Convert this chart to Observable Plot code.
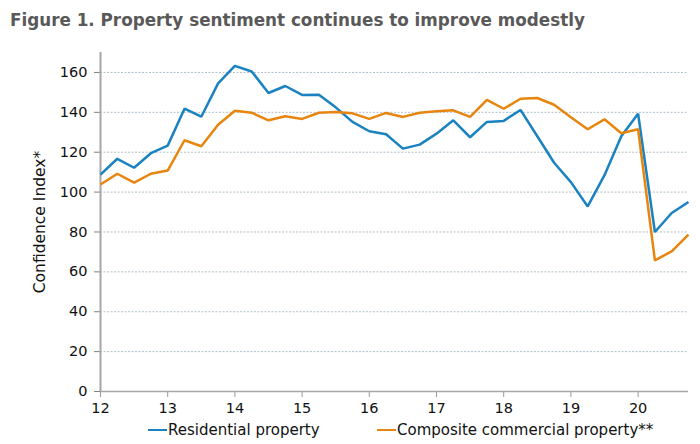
<!DOCTYPE html>
<html>
<head>
<meta charset="utf-8">
<script src="https://cdn.jsdelivr.net/npm/d3@7"></script>
<script src="https://cdn.jsdelivr.net/npm/@observablehq/plot@0.6"></script>
<style>
  body { margin: 0; background: #fff; font-family: "DejaVu Sans", Verdana, sans-serif; }
  #wrap { width: 700px; height: 444px; position: relative; overflow: hidden; }
  #title { position: absolute; left: 10px; top: 10px; font-size: 16.8px; font-weight: bold; color: #595959; white-space: nowrap; }
  #chart { position: absolute; left: 0; top: 40px; }
  #legend { position: absolute; top: 421px; left: 0; width: 700px; font-size: 15px; color: #111; }
  .item { position: absolute; display: flex; align-items: center; white-space: nowrap; }
  .sw { display: inline-block; width: 19px; height: 2.5px; margin-right: 1px; }
</style>
</head>
<body>
<div id="wrap">
  <div id="title">Figure 1. Property sentiment continues to improve modestly</div>
  <div id="chart"></div>
  <div id="legend"></div>
</div>
<script>
const quarters = [12,12.25,12.5,12.75,13,13.25,13.5,13.75,14,14.25,14.5,14.75,15,15.25,15.5,15.75,16,16.25,16.5,16.75,17,17.25,17.5,17.75,18,18.25,18.5,18.75,19,19.25,19.5,19.75,20,20.25,20.5,20.75];
const residential = [108.8,116.7,112.2,119.5,123.3,141.8,137.8,154.5,163.3,160.5,149.7,153.2,148.7,148.8,142.5,135.2,130.5,129,121.8,123.8,129.3,136,127.5,135.2,135.7,141.2,128,114.7,105,92.8,108.5,128,139.3,80,89.5,95];
const commercial = [103.8,109.2,104.7,109.2,110.8,126,123,133.8,140.8,139.8,136,138,136.7,139.8,140.2,139.5,136.7,139.7,137.7,139.8,140.5,141,137.7,146.2,141.8,146.8,147.2,143.8,137.5,131.5,136.5,129.5,131.5,65.8,70.3,78.7];
const seriesNames = ["Residential property", "Composite commercial property**"];
const seriesColors = ["#1a82c0", "#e8850e"];
const xTicks = [12,13,14,15,16,17,18,19,20];
const yTicks = [0,20,40,60,80,100,120,140,160];

const data = [];
quarters.forEach((q, i) => {
  data.push({q, v: residential[i], s: seriesNames[0]});
  data.push({q, v: commercial[i], s: seriesNames[1]});
});

const chart = Plot.plot({
  width: 700,
  height: 380,
  marginLeft: 100,
  marginRight: 12,
  marginTop: 12,
  marginBottom: 29,
  style: { fontFamily: "DejaVu Sans, Verdana, sans-serif", fontSize: "14.5px", color: "#111", background: "#fff" },
  x: { domain: [12, 20.75] },
  y: { domain: [0, 170] },
  color: { domain: seriesNames, range: seriesColors },
  marks: [
    Plot.gridY(yTicks.filter(d => d > 0), { stroke: "#b0bfc9", strokeOpacity: 1, strokeDasharray: "2,1.5", strokeWidth: 1 }),
    Plot.axisY(yTicks, { tickSize: 6, tickPadding: 7, stroke: "#808080", label: null, fontSize: 14.5 }),
    Plot.text(["Confidence Index*"], { frameAnchor: "left", dx: -60, rotate: -90, textAnchor: "middle", fontSize: 15.5, fill: "#111" }),
    Plot.axisX(xTicks, { tickSize: 6, tickPadding: 5, stroke: "#999", label: null, tickFormat: d => String(d), fontSize: 14.5 }),
    Plot.ruleY([0], { stroke: "#a6a6a6", strokeWidth: 1.5 }),
    Plot.ruleX([12], { stroke: "#a6a6a6", strokeWidth: 2 }),
    Plot.line(data, { x: "q", y: "v", z: "s", stroke: "s", strokeWidth: 2.5, strokeLinejoin: "miter", strokeLinecap: "butt" })
  ]
});
document.getElementById("chart").appendChild(chart);

const legend = document.getElementById("legend");
const lefts = [148, 377];
seriesNames.forEach((n, i) => {
  const it = document.createElement("div");
  it.className = "item";
  it.style.left = lefts[i] + "px";
  it.innerHTML = `<span class="sw" style="background:${seriesColors[i]}"></span><span>${n}</span>`;
  legend.appendChild(it);
});
</script>
</body>
</html>
